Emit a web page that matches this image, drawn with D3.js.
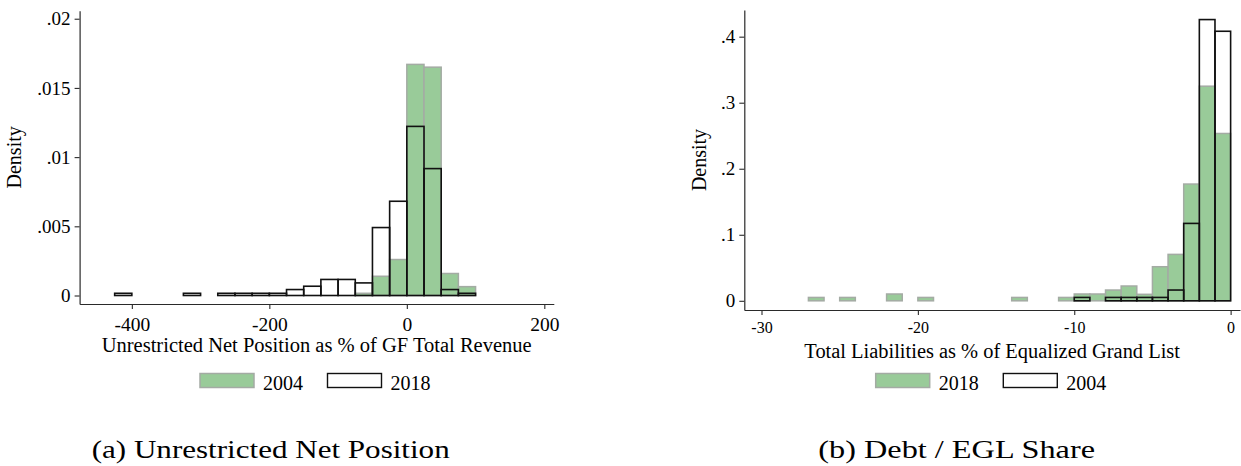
<!DOCTYPE html>
<html>
<head>
<meta charset="utf-8">
<script src="https://cdn.jsdelivr.net/npm/d3@7"></script>
<style>
  body { margin: 0; background: #fff; }
  svg { display: block; }
  text { font-family: "Liberation Serif", "Times New Roman", serif; fill: #000; }
</style>
</head>
<body>
<svg id="fig" width="1241" height="466"></svg>
<script>
// ---- Panel (a): Unrestricted net position as % of GF total revenue (bin width 25) ----
const netBinWidth = 25;
const netBinStart = [-425, -400, -375, -350, -325, -300, -275, -250, -225, -200, -175,
                     -150, -125, -100, -75, -50, -25, 0, 25, 50, 75];
const net2004 = [0, 0, 0, 0, 0, 0, 0, 0, 0, 0, 0,
                 0, 0, 0, 0.00016, 0.00139, 0.0026, 0.0167, 0.0165, 0.00159, 0.00064];
const net2018 = [0.00016, 0, 0, 0, 0.00016, 0, 0.00016, 0.00016, 0.00016, 0.00016, 0.00043,
                 0.00067, 0.00116, 0.00116, 0.00091, 0.00491, 0.00681, 0.01222, 0.00917, 0.00043, 0.00016];
const netXTicks = [-400, -200, 0, 200];
const netYTicks = [0, 0.005, 0.01, 0.015, 0.02];
const netYTickLabels = ["0", ".005", ".01", ".015", ".02"];
const netLegend = ["2004", "2018"];

// ---- Panel (b): Total liabilities as % of equalized grand list (bin width 1) ----
const debtBinWidth = 1;
const debtBinStart = [-27, -26, -25, -24, -23, -22, -21, -20, -19, -18, -17, -16, -15, -14,
                      -13, -12, -11, -10, -9, -8, -7, -6, -5, -4, -3, -2, -1];
const debt2018 = [0.0051, 0, 0.0051, 0, 0, 0.0103, 0, 0.0051, 0, 0, 0, 0, 0, 0.0051,
                  0, 0, 0.0051, 0.0103, 0.0103, 0.0163, 0.0224, 0.0098, 0.0516, 0.0703, 0.1768, 0.325, 0.2534];
const debt2004 = [0, 0, 0, 0, 0, 0, 0, 0, 0, 0, 0, 0, 0, 0,
                  0, 0, 0, 0.0051, 0, 0.0051, 0.0051, 0.0051, 0.0051, 0.0163, 0.1172, 0.4259, 0.4082];
const debtXTicks = [-30, -20, -10, 0];
const debtYTicks = [0, 0.1, 0.2, 0.3, 0.4];
const debtYTickLabels = ["0", ".1", ".2", ".3", ".4"];
const debtLegend = ["2018", "2004"];

const svg = d3.select("#fig");
const SERIF = '"Liberation Serif", "Times New Roman", serif';
const GREEN_FILL = "#99cb99";
const GREEN_LINE = "#a4aba4";
const AXIS_COLOR = "#2a2a2a";

function panel(cfg) {
  const g = svg.append("g");
  const x = d3.scaleLinear().domain(cfg.xDomain).range(cfg.xRange);
  const y = d3.scaleLinear().domain(cfg.yDomain).range(cfg.yRange);

  // filled histogram underneath
  const filled = cfg.binStart.map((s, i) => ({ s, v: cfg.filled[i] })).filter(d => d.v > 0);
  g.append("g").selectAll("rect").data(filled).join("rect")
    .attr("x", d => x(d.s))
    .attr("width", d => x(d.s + cfg.binWidth) - x(d.s))
    .attr("y", d => y(d.v))
    .attr("height", d => y(0) - y(d.v))
    .attr("fill", GREEN_FILL)
    .attr("stroke", GREEN_LINE)
    .attr("stroke-width", 1.5);

  // outlined histogram on top
  const hollow = cfg.binStart.map((s, i) => ({ s, v: cfg.hollow[i] })).filter(d => d.v > 0);
  g.append("g").selectAll("rect").data(hollow).join("rect")
    .attr("x", d => x(d.s))
    .attr("width", d => x(d.s + cfg.binWidth) - x(d.s))
    .attr("y", d => y(d.v))
    .attr("height", d => y(0) - y(d.v))
    .attr("fill", "none")
    .attr("stroke", "#111")
    .attr("stroke-width", 1.6);

  // axes
  const xAxis = g.append("g")
    .attr("transform", `translate(0,${cfg.yRange[0]})`)
    .call(d3.axisBottom(x).tickValues(cfg.xTicks).tickFormat(d => String(d))
      .tickSize(5).tickSizeOuter(0).tickPadding(cfg.xTickPad));
  xAxis.attr("font-family", null).attr("font-size", null);
  xAxis.selectAll("text").style("font-size", cfg.xTickFont + "px").style("font-family", SERIF);

  const yAxis = g.append("g")
    .attr("transform", `translate(${cfg.xRange[0]},0)`)
    .call(d3.axisLeft(y).tickValues(cfg.yTicks).tickFormat((d, i) => cfg.yTickLabels[i])
      .tickSize(5).tickSizeOuter(0).tickPadding(4));
  yAxis.attr("font-family", null).attr("font-size", null);
  yAxis.selectAll("text").style("font-size", "19px").style("font-family", SERIF);

  [xAxis, yAxis].forEach(a => {
    a.select(".domain").attr("stroke", AXIS_COLOR).attr("stroke-width", 1.2);
    a.selectAll(".tick line").attr("stroke", AXIS_COLOR).attr("stroke-width", 1.1);
    a.selectAll(".tick text").attr("fill", "#000");
  });

  // axis titles
  const xMid = (cfg.xRange[0] + cfg.xRange[1]) / 2;
  g.append("text")
    .attr("x", xMid).attr("y", cfg.yRange[0] + 47.5)
    .attr("text-anchor", "middle").style("font-size", "20.5px")
    .attr("textLength", cfg.xTitleWidth).attr("lengthAdjust", "spacingAndGlyphs")
    .text(cfg.xTitle);

  const yMid = (cfg.yRange[0] + cfg.yRange[1]) / 2;
  g.append("text")
    .attr("transform", `translate(${cfg.yTitleX},${yMid}) rotate(-90)`)
    .attr("text-anchor", "middle").style("font-size", "20px")
    .text("Density");

  // legend
  const lg = g.append("g");
  const keys = [
    { x: cfg.legendX[0], fill: GREEN_FILL, stroke: GREEN_LINE, sw: 1.5, label: cfg.legend[0] },
    { x: cfg.legendX[1], fill: "#fff", stroke: "#111", sw: 1.4, label: cfg.legend[1] }
  ];
  keys.forEach(k => {
    lg.append("rect")
      .attr("x", k.x).attr("y", 373.5).attr("width", 54).attr("height", 14)
      .attr("fill", k.fill).attr("stroke", k.stroke).attr("stroke-width", k.sw);
    lg.append("text")
      .attr("x", k.x + 63).attr("y", 389.5).style("font-size", "20px")
      .text(k.label);
  });

  // caption
  g.append("text")
    .attr("x", cfg.captionX).attr("y", 457.5)
    .style("font-size", "26px")
    .attr("textLength", cfg.captionWidth).attr("lengthAdjust", "spacingAndGlyphs")
    .text(cfg.caption);
}

panel({
  binStart: netBinStart, binWidth: netBinWidth,
  filled: net2004, hollow: net2018,
  xDomain: [-476, 213.8], xRange: [79.6, 553.8],
  yDomain: [-0.000614, 0.02058], yRange: [304, 10.7],
  xTicks: netXTicks, yTicks: netYTicks, yTickLabels: netYTickLabels,
  xTickFont: 19.5, xTickPad: 8,
  xTitle: "Unrestricted Net Position as % of GF Total Revenue", xTitleWidth: 430,
  yTitleX: 21,
  legend: netLegend, legendX: [200, 327.5],
  caption: "(a) Unrestricted Net Position", captionX: 91.7, captionWidth: 358
});

panel({
  binStart: debtBinStart, binWidth: debtBinWidth,
  filled: debt2018, hollow: debt2004,
  xDomain: [-31.1, 0.6], xRange: [744.3, 1240],
  yDomain: [-0.01393, 0.4404], yRange: [310, 10],
  xTicks: debtXTicks, yTicks: debtYTicks, yTickLabels: debtYTickLabels,
  xTickFont: 16, xTickPad: 7,
  xTitle: "Total Liabilities as % of Equalized Grand List", xTitleWidth: 375.6,
  yTitleX: 706,
  legend: debtLegend, legendX: [875.7, 1003.3],
  caption: "(b) Debt / EGL Share", captionX: 818.3, captionWidth: 276.7
});
</script>
</body>
</html>
